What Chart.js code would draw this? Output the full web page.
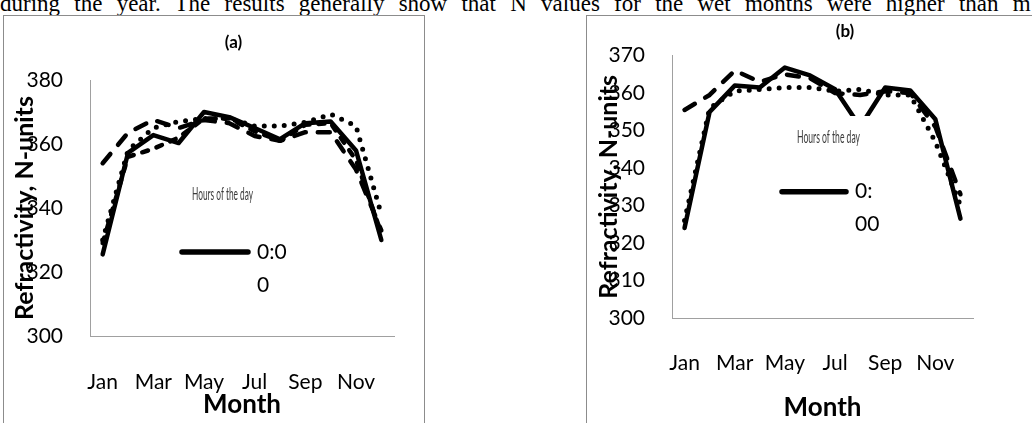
<!DOCTYPE html>
<html>
<head>
<meta charset="utf-8">
<script src="https://cdn.jsdelivr.net/npm/chart.js@4"></script>
<style>
  html, body { margin: 0; padding: 0; background: #fff; }
  body { width: 1032px; height: 423px; position: relative; overflow: hidden; }
  .lead {
    position: absolute; left: 0; top: -8px; white-space: nowrap;
    font: 23px/23px "Liberation Serif", serif; color: #000; word-spacing: 8.5px;
  }
  .frame { position: absolute; border: 1px solid #8c8c8c; box-sizing: border-box; }
  #frameA { left: 3px; top: 15px; width: 422px; height: 430px; }
  #frameB { left: 586px; top: 15px; width: 470px; height: 430px; }
  canvas { position: absolute; }
  #chartA { left: 4px; top: 16px; }
  #chartB { left: 587px; top: 16px; }
</style>
</head>
<body>
<div class="lead">during the year. The results generally show that N values for the wet months were higher than m</div>
<div class="frame" id="frameA"></div>
<div class="frame" id="frameB"></div>
<canvas id="chartA" width="419" height="407"></canvas>
<canvas id="chartB" width="445" height="407"></canvas>
<script>
// Month categories and hour-of-day series names
const months = ['Jan', 'Feb', 'Mar', 'Apr', 'May', 'Jun', 'Jul', 'Aug', 'Sep', 'Oct', 'Nov', 'Dec'];
const hourLabels = ['0:00', '6:00', '12:00', '18:00'];

// Panel (a): monthly mean refractivity (N-units)
const refracA_h00 = [325.5, 357.2, 362.8, 360.3, 370.0, 368.4, 365.0, 361.5, 366.5, 367.0, 358.0, 330.0];
const refracA_h06 = [354.0, 363.5, 367.5, 365.0, 367.5, 366.5, 362.5, 361.0, 363.7, 363.7, 352.0, 333.0];
const refracA_h12 = [330.0, 358.0, 365.0, 367.0, 368.0, 368.0, 365.6, 365.6, 366.8, 369.3, 365.6, 338.0];
const refracA_h18 = [329.0, 356.0, 358.5, 362.0, 368.0, 368.0, 364.0, 361.0, 366.0, 366.5, 355.0, 332.0];

// Panel (b): monthly mean refractivity (N-units)
const refracB_h00 = [324.0, 355.0, 362.0, 361.5, 366.8, 364.7, 361.0, 351.0, 361.5, 360.7, 353.0, 326.5];
const refracB_h06 = [355.5, 359.5, 366.0, 363.0, 365.0, 364.0, 360.0, 359.5, 360.5, 360.0, 351.0, 333.0];
const refracB_h12 = [326.0, 356.0, 360.5, 361.0, 361.5, 361.5, 360.5, 361.0, 359.5, 359.5, 347.0, 330.0];

// Y-axis tick ranges
const yTicksA = { min: 300, max: 380, step: 20 };
const yTicksB = { min: 300, max: 370, step: 10 };

const lineStyles = [
  { dash: [], width: 4.5 },          // solid
  { dash: [12, 12], width: 4.5 },    // long dash
  { dash: [0, 10], width: 5 },       // round dot
  { dash: [6, 9], width: 4.5 }       // dash
];

// Draws the panel tag, a white legend panel over the plot and its single entry
function makeDecor(d) {
  return {
    id: 'panelDecor',
    afterDatasetsDraw(chart) {
      const ctx = chart.ctx;
      ctx.save();
      ctx.fillStyle = '#fff';
      ctx.fillRect(d.box[0], d.box[1], d.box[2], d.box[3]);

      // condensed legend heading
      ctx.fillStyle = '#3a3a3a';
      ctx.font = '17px Lato';
      ctx.textBaseline = 'middle';
      ctx.textAlign = 'center';
      const w = ctx.measureText(d.heading).width;
      ctx.save();
      ctx.translate(d.headingAt[0], d.headingAt[1]);
      ctx.scale(d.headingWidth / w, 1);
      ctx.fillText(d.heading, 0, 0);
      ctx.restore();

      // sample line of the first series
      const ds = chart.data.datasets[0];
      ctx.strokeStyle = ds.borderColor;
      ctx.lineWidth = 5.5;
      ctx.lineCap = 'round';
      ctx.beginPath();
      ctx.moveTo(d.sample[0], d.sample[2]);
      ctx.lineTo(d.sample[1], d.sample[2]);
      ctx.stroke();

      // wrapped entry label
      ctx.fillStyle = '#000';
      ctx.font = '21px Lato';
      ctx.textAlign = 'left';
      ctx.fillText(ds.label.slice(0, d.wrapAt), d.textAt[0], d.textAt[1]);
      ctx.fillText(ds.label.slice(d.wrapAt), d.textAt[0], d.textAt[1] + d.lineGap);

      // panel tag
      ctx.font = 'bold 17px Lato';
      ctx.textAlign = 'center';
      ctx.fillText(d.tag, d.tagAt[0], d.tagAt[1]);
      ctx.restore();
    }
  };
}

function buildPanel(canvasId, seriesList, yTicks, geom, decor) {
  const datasets = seriesList.map((values, i) => ({
    label: hourLabels[i],
    data: values,
    borderColor: '#000',
    backgroundColor: '#000',
    borderWidth: lineStyles[i].width,
    borderDash: lineStyles[i].dash,
    borderCapStyle: 'round',
    borderJoinStyle: 'round',
    pointRadius: 0,
    tension: 0,
    fill: false
  }));

  return new Chart(document.getElementById(canvasId), {
    type: 'line',
    data: { labels: months, datasets },
    options: {
      responsive: false,
      animation: false,
      devicePixelRatio: 1,
      layout: { padding: geom.padding },
      plugins: { legend: { display: false }, tooltip: { enabled: false } },
      scales: {
        x: {
          type: 'category',
          offset: true,
          grid: { display: false, drawTicks: false },
          border: { display: true, color: '#a0a0a0', width: 1 },
          ticks: {
            autoSkip: false, maxRotation: 0, minRotation: 0,
            padding: geom.xPad, color: '#000',
            font: { family: 'Lato', size: 21 },
            callback: (v, i) => (i % 2 === 0 ? months[i] : '')
          },
          title: {
            display: true, text: 'Month', color: '#000', padding: 0,
            font: { family: 'Lato', size: 26, weight: 'bold' }
          },
          afterFit: s => { s.height = geom.xH; }
        },
        y: {
          min: yTicks.min,
          max: yTicks.max,
          grid: { display: false, drawTicks: false },
          border: { display: true, color: '#a0a0a0', width: 1 },
          ticks: {
            stepSize: yTicks.step, padding: 27, color: '#000',
            font: { family: 'Lato', size: 21 }
          },
          title: {
            display: true, text: 'Refractivity, N-units', color: '#000',
            padding: { top: geom.yTitlePad, bottom: 0 },
            font: { family: 'Lato', size: 25, weight: 'bold' }
          },
          afterFit: s => { s.width = geom.yW; }
        }
      }
    },
    plugins: [makeDecor(decor)]
  });
}

buildPanel('chartA',
  [refracA_h00, refracA_h06, refracA_h12, refracA_h18],
  yTicksA,
  { padding: { top: 64, right: 29, bottom: 3, left: 0 }, yW: 86, xH: 84, xPad: 34, yTitlePad: 6 },
  {
    tag: '(a)', tagAt: [229.5, 26.5],
    box: [150, 160, 170, 140],
    heading: 'Hours of the day', headingAt: [218.5, 179], headingWidth: 61,
    sample: [178, 244, 236], textAt: [253, 236.5], lineGap: 32.5, wrapAt: 3
  });

buildPanel('chartB',
  [refracB_h00, refracB_h06, refracB_h12],
  yTicksB,
  { padding: { top: 37, right: 59, bottom: 0, left: 0 }, yW: 85, xH: 105, xPad: 33, yTitlePad: 7 },
  {
    tag: '(b)', tagAt: [258, 15.5],
    box: [178, 100, 140, 130],
    heading: 'Hours of the day', headingAt: [241.5, 122], headingWidth: 63,
    sample: [195, 259, 175.7], textAt: [268, 175.5], lineGap: 33, wrapAt: 2
  });
</script>
</body>
</html>
